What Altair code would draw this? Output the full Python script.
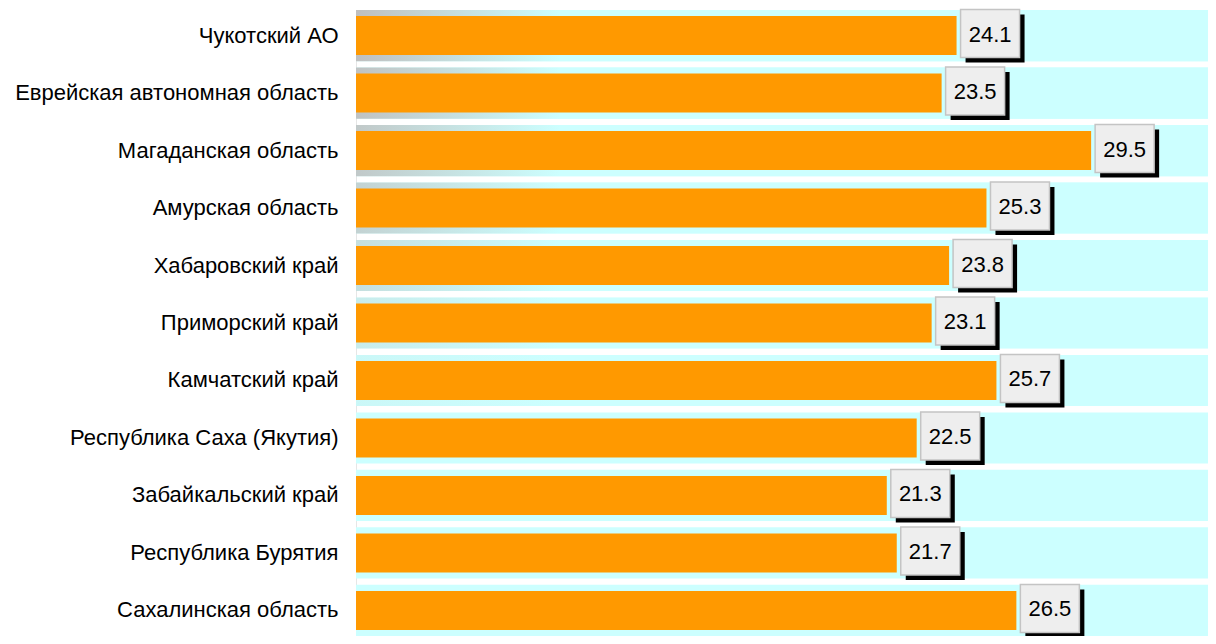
import altair as alt
import pandas as pd

regions = [
    "Чукотский АО",
    "Еврейская автономная область",
    "Магаданская область",
    "Амурская область",
    "Хабаровский край",
    "Приморский край",
    "Камчатский край ",
    "Республика Саха (Якутия)",
    "Забайкальский край",
    "Республика Бурятия",
    "Сахалинская область",
]
values = [24.1, 23.5, 29.5, 25.3, 23.8, 23.1, 25.7, 22.5, 21.3, 21.7, 26.5]
# strength of the grey shading on the row backgrounds (decoration)
shade = [1.0, 0.95, 0.85, 0.7, 0.5, 0.3, 0.12, 0.0, 0.0, 0.0, 0.0]

XMAX = 34.19

df = pd.DataFrame({"region": regions, "value": values, "shade": shade})

FONT = "Liberation Sans"

y_enc = alt.Y(
    "region:N",
    sort=regions,
    scale=alt.Scale(paddingInner=0.11, paddingOuter=0),
    axis=alt.Axis(
        title=None,
        ticks=False,
        domain=True,
        domainColor="#e6e6e6",
        labelFont=FONT,
        labelFontSize=22,
        labelColor="black",
        labelPadding=18,
        labelLimit=400,
    ),
)

x_scale = alt.Scale(domain=[0, XMAX], nice=False, zero=True)

base = alt.Chart(df)

bg = base.mark_bar(color="#ccffff").encode(
    x=alt.X(datum=0, scale=x_scale, axis=None),
    x2=alt.X2(datum=XMAX),
    y=y_enc,
)

grad = base.mark_bar(
    color=alt.Gradient(
        gradient="linear",
        x1=0, x2=1, y1=0, y2=0,
        stops=[
            alt.GradientStop(color="#bfbfbf", offset=0),
            alt.GradientStop(color="#ccffff", offset=0.24),
            alt.GradientStop(color="#ccffff", offset=1),
        ],
    )
).encode(
    x=alt.X(datum=0, scale=x_scale, axis=None),
    x2=alt.X2(datum=XMAX),
    y=y_enc,
    opacity=alt.Opacity("shade:Q", scale=None, legend=None),
)

bars = base.mark_bar(color="#ff9900", height=39).encode(
    x=alt.X("value:Q", scale=x_scale, axis=None),
    y=y_enc,
)

shadow = base.mark_bar(color="black", height=48, xOffset=9, x2Offset=68, yOffset=3).encode(
    x=alt.X("value:Q", scale=x_scale, axis=None),
    x2="value:Q",
    y=y_enc,
)

box = base.mark_bar(
    color="#eeeeee", stroke="#c4c4c4", strokeWidth=1.5,
    height=48, xOffset=4, x2Offset=63, yOffset=-2,
).encode(
    x=alt.X("value:Q", scale=x_scale, axis=None),
    x2="value:Q",
    y=y_enc,
)

labels = base.mark_text(
    font=FONT, fontSize=22, color="black", align="center", baseline="middle",
    dx=33.5, dy=-1,
).encode(
    x=alt.X("value:Q", scale=x_scale, axis=None),
    y=y_enc,
    text=alt.Text("value:Q", format=".1f"),
)

chart = (
    alt.layer(bg, grad, bars, shadow, box, labels)
    .properties(
        width=852,
        height=626,
        autosize=alt.AutoSizeParams(type="none"),
        padding={"left": 348, "top": 2, "right": 0, "bottom": 0},
    )
    .configure_view(stroke=None)
)

chart.save("out.html", embed_options={"renderer": "svg", "actions": False})
